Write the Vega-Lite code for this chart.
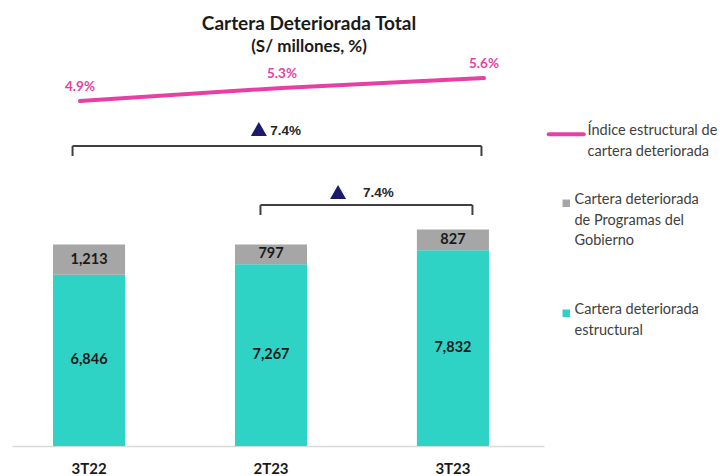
{
  "$schema": "https://vega.github.io/schema/vega-lite/v6.json",
  "width": 532,
  "height": 386,
  "autosize": {"type": "none"},
  "padding": {"left": 12, "top": 60, "right": 183, "bottom": 30},
  "title": {
    "text": "Cartera Deteriorada Total",
    "subtitle": "(S/ millones, %)",
    "anchor": "middle",
    "dx": 31,
    "offset": 2,
    "font": "Lato",
    "fontSize": 19,
    "fontWeight": "bold",
    "color": "#1a1a1a",
    "subtitleFont": "Lato",
    "subtitleFontSize": 17,
    "subtitleFontWeight": "bold",
    "subtitleColor": "#1a1a1a",
    "subtitlePadding": 5
  },
  "config": {"view": {"stroke": null}, "font": "Lato"},
  "datasets": {
    "bars": [
      {"period": "3T22", "series": "Cartera deteriorada estructural", "value": 6846},
      {"period": "3T22", "series": "Cartera deteriorada de Programas del Gobierno", "value": 1213},
      {"period": "2T23", "series": "Cartera deteriorada estructural", "value": 7267},
      {"period": "2T23", "series": "Cartera deteriorada de Programas del Gobierno", "value": 797},
      {"period": "3T23", "series": "Cartera deteriorada estructural", "value": 7832},
      {"period": "3T23", "series": "Cartera deteriorada de Programas del Gobierno", "value": 827}
    ],
    "ratio": [
      {"period": "3T22", "ratio": 0.049},
      {"period": "2T23", "ratio": 0.053},
      {"period": "3T23", "ratio": 0.056}
    ],
    "brackets": [
      {"from": "3T22", "to": "3T23", "label": "7.4%", "level": 12000},
      {"from": "2T23", "to": "3T23", "label": "7.4%", "level": 9640}
    ]
  },
  "layer": [
    {
      "layer": [
        {
          "data": {"name": "bars"},
          "mark": {"type": "bar"},
          "encoding": {
            "x": {
              "field": "period", "type": "nominal",
              "scale": {"domain": ["3T22", "2T23", "3T23"], "paddingInner": 0.604, "paddingOuter": 0.264, "align": 0.427},
              "axis": {"title": null, "labelFont": "Lato", "labelFontSize": 15, "labelFontWeight": "bold", "labelColor": "#1a1a1a", "labelAngle": 0, "ticks": false, "domainColor": "#D9D9D9", "domainWidth": 1.5, "labelPadding": 15}
            },
            "y": {"field": "value", "type": "quantitative", "stack": "zero", "scale": {"domain": [0, 15440], "nice": false}, "axis": null},
            "color": {
              "field": "series", "type": "nominal",
              "scale": {
                "domain": ["Índice estructural de cartera deteriorada", "Cartera deteriorada de Programas del Gobierno", "Cartera deteriorada estructural"],
                "range": ["#E83FA4", "#A6A6A6", "#2ED3C6"]
              },
              "legend": {
                "orient": "none",
                "legendX": 547,
                "legendY": 67,
                "title": null,
                "symbolSize": 64,
                "rowPadding": 33,
                "labelOffset": 1,
                "labelFont": "Lato",
                "labelFontSize": 14.5,
                "labelColor": "#404040",
                "labelBaseline": "top",
                "labelLimit": 300,
                "labelExpr": "datum.value == 'Índice estructural de cartera deteriorada' ? ['Índice estructural de', 'cartera deteriorada'] : datum.value == 'Cartera deteriorada de Programas del Gobierno' ? ['Cartera deteriorada', 'de Programas del', 'Gobierno', ''] : ['Cartera deteriorada', 'estructural']",
                "encode": {
                  "labels": {"update": {
                    "lineHeight": {"value": 20.5},
                    "dy": {"value": -10},
                    "dx": {"signal": "datum.value == 'Índice estructural de cartera deteriorada' ? 13 : 0"}
                  }},
                  "symbols": {"update": {
                    "shape": {"signal": "datum.value == 'Índice estructural de cartera deteriorada' ? 'stroke' : 'square'"},
                    "size": {"signal": "datum.value == 'Índice estructural de cartera deteriorada' ? 1225 : 56"},
                    "strokeWidth": {"signal": "datum.value == 'Índice estructural de cartera deteriorada' ? 4 : 0"},
                    "stroke": {"signal": "scale('color', datum.value)"},
                    "fill": {"signal": "scale('color', datum.value)"},
                    "strokeCap": {"value": "round"},
                    "opacity": {"value": 1}
                  }}
                }
              }
            },
            "order": {"field": "series", "sort": "descending"}
          }
        },
        {
          "data": {"name": "bars"},
          "mark": {"type": "text", "font": "Lato", "fontSize": 14.5, "fontWeight": "bold", "color": "#1a1a1a", "baseline": "middle"},
          "encoding": {
            "x": {"field": "period", "type": "nominal"},
            "y": {"field": "value", "type": "quantitative", "stack": "zero", "bandPosition": 0.5},
            "detail": {"field": "series"},
            "order": {"field": "series", "sort": "descending"},
            "text": {"field": "value", "type": "quantitative", "format": ","}
          }
        },
        {
          "data": {"name": "brackets"},
          "transform": [{"filter": "datum.from == '3T22'"}],
          "layer": [
            {
              "mark": {"type": "rule", "color": "#404040", "strokeWidth": 2},
              "encoding": {
                "x": {"field": "from", "type": "nominal", "bandPosition": 0.271},
                "x2": {"field": "to", "bandPosition": 0.896},
                "y": {"field": "level", "type": "quantitative"}
              }
            },
            {
              "mark": {"type": "rule", "color": "#404040", "strokeWidth": 2, "y2Offset": 10},
              "encoding": {
                "x": {"field": "from", "type": "nominal", "bandPosition": 0.271},
                "y": {"field": "level", "type": "quantitative"},
                "y2": {"field": "level"}
              }
            },
            {
              "mark": {"type": "rule", "color": "#404040", "strokeWidth": 2, "y2Offset": 10},
              "encoding": {
                "x": {"field": "to", "type": "nominal", "bandPosition": 0.896},
                "y": {"field": "level", "type": "quantitative"},
                "y2": {"field": "level"}
              }
            },
            {
              "mark": {"type": "point", "shape": "triangle-up", "size": 256, "filled": true, "opacity": 1, "color": "#1B1A6B", "yOffset": -17},
              "encoding": {
                "x": {"field": "from", "type": "nominal", "bandPosition": 2.857},
                "y": {"field": "level", "type": "quantitative"}
              }
            },
            {
              "mark": {"type": "text", "font": "Liberation Sans", "fontSize": 13.5, "fontWeight": "bold", "color": "#262626", "align": "left", "dy": -15, "baseline": "middle"},
              "encoding": {
                "x": {"field": "from", "type": "nominal", "bandPosition": 3.014},
                "y": {"field": "level", "type": "quantitative"},
                "text": {"field": "label"}
              }
            }
          ]
        },
        {
          "data": {"name": "brackets"},
          "transform": [{"filter": "datum.from == '2T23'"}],
          "layer": [
            {
              "mark": {"type": "rule", "color": "#404040", "strokeWidth": 2},
              "encoding": {
                "x": {"field": "from", "type": "nominal", "bandPosition": 0.354},
                "x2": {"field": "to", "bandPosition": 0.771},
                "y": {"field": "level", "type": "quantitative"}
              }
            },
            {
              "mark": {"type": "rule", "color": "#404040", "strokeWidth": 2, "y2Offset": 10},
              "encoding": {
                "x": {"field": "from", "type": "nominal", "bandPosition": 0.354},
                "y": {"field": "level", "type": "quantitative"},
                "y2": {"field": "level"}
              }
            },
            {
              "mark": {"type": "rule", "color": "#404040", "strokeWidth": 2, "y2Offset": 10},
              "encoding": {
                "x": {"field": "to", "type": "nominal", "bandPosition": 0.771},
                "y": {"field": "level", "type": "quantitative"},
                "y2": {"field": "level"}
              }
            },
            {
              "mark": {"type": "point", "shape": "triangle-up", "size": 256, "filled": true, "opacity": 1, "color": "#1B1A6B", "yOffset": -13},
              "encoding": {
                "x": {"field": "from", "type": "nominal", "bandPosition": 1.431},
                "y": {"field": "level", "type": "quantitative"}
              }
            },
            {
              "mark": {"type": "text", "font": "Liberation Sans", "fontSize": 13.5, "fontWeight": "bold", "color": "#262626", "align": "left", "dy": -12, "baseline": "middle"},
              "encoding": {
                "x": {"field": "from", "type": "nominal", "bandPosition": 1.778},
                "y": {"field": "level", "type": "quantitative"},
                "text": {"field": "label"}
              }
            }
          ]
        }
      ]
    },
    {
      "data": {"name": "ratio"},
      "encoding": {
        "x": {"field": "period", "type": "nominal", "scale": {"type": "point", "domain": ["3T22", "2T23", "3T23"], "range": [68, 472], "padding": 0}, "axis": null},
        "y": {"field": "ratio", "type": "quantitative", "scale": {"domain": [-0.056, 0.0615], "nice": false, "zero": false}, "axis": null}
      },
      "layer": [
        {
          "mark": {"type": "line", "strokeWidth": 4, "strokeCap": "round"},
          "encoding": {"color": {"datum": "Índice estructural de cartera deteriorada", "type": "nominal"}}
        },
        {
          "mark": {"type": "text", "font": "Lato", "fontSize": 13.5, "fontWeight": "bold", "color": "#E83FA4", "dy": -14, "baseline": "middle"},
          "encoding": {"text": {"field": "ratio", "type": "quantitative", "format": ".1%"}}
        }
      ]
    }
  ],
  "resolve": {"scale": {"x": "independent", "y": "independent"}}
}
